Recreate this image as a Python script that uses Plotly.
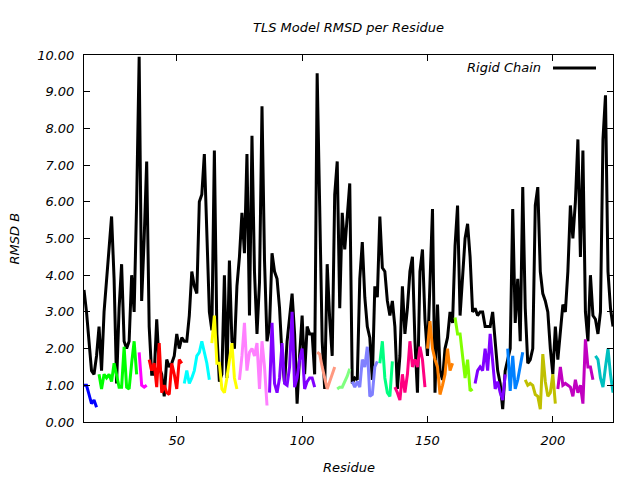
import plotly.graph_objects as go

# ---------------- data ----------------
residues = list(range(13, 225))

rigid_chain_rmsd = [
    3.6, 3.0, 2.2, 1.4, 1.3, 1.8, 2.6, 1.4, 3.0, 3.9,      # 13-22
    4.8, 5.6, 3.9, 1.05, 3.1, 4.3, 2.2, 2.0, 2.2, 4.0,     # 23-32
    3.0, 6.0, 9.95, 3.3, 5.0, 7.1, 2.6, 1.3, 1.3, 2.8,     # 33-42
    1.5, 1.3, 0.7, 1.7, 1.5, 1.6, 1.8, 2.4, 2.0, 2.3,      # 43-52
    2.2, 2.2, 2.9, 4.1, 3.7, 3.5, 6.0, 6.2, 7.3, 5.4,      # 53-62
    3.0, 2.5, 7.4, 2.4, 1.1, 1.3, 4.0, 1.2, 4.4, 2.2,      # 63-72
    2.0, 3.7, 4.5, 5.7, 4.6, 7.3, 2.9, 7.8, 4.1, 2.4,      # 73-82
    3.8, 8.6, 4.4, 2.2, 2.6, 4.6, 4.1, 3.9, 3.1, 1.8,      # 83-92
    1.05, 2.2, 2.8, 3.5, 2.4, 0.5, 1.8, 2.9, 1.3, 2.6,     # 93-102
    2.4, 2.4, 1.3, 9.5, 5.9, 2.2, 0.9, 4.3, 2.8, 1.8,      # 103-112
    6.2, 7.1, 3.1, 5.7, 4.7, 5.6, 6.5, 1.05, 1.2, 1.15,    # 113-122
    3.9, 4.9, 3.4, 2.6, 2.3, 1.15, 3.7, 3.4, 5.6, 4.2,     # 123-132
    4.1, 3.3, 2.9, 3.3, 2.6, 0.9, 1.8, 3.7, 2.4, 3.1,      # 133-142
    4.1, 4.5, 2.2, 0.8, 4.1, 4.7, 2.8, 1.8, 4.1, 5.8,      # 143-152
    0.8, 3.2, 1.4, 1.15, 2.0, 2.3, 3.0, 2.7, 4.8, 5.9,     # 153-162
    2.9, 4.1, 5.0, 5.4, 4.5, 3.0, 3.1, 2.9, 3.0, 3.0,      # 163-172
    2.6, 2.6, 2.6, 3.0, 2.1, 1.4, 1.05, 0.35, 1.4, 1.7,    # 173-182
    2.0, 5.8, 2.7, 3.9, 2.2, 6.4, 3.1, 1.6, 1.7, 2.0,      # 183-192
    5.9, 6.4, 4.1, 3.5, 3.3, 3.0, 2.0, 1.3, 2.6, 1.7,      # 193-202
    2.4, 3.2, 3.0, 4.1, 5.9, 5.0, 6.0, 7.7, 4.5, 7.4,      # 203-212
    3.0, 2.2, 4.0, 2.9, 2.8, 2.4, 3.0, 7.7, 8.9, 4.1,      # 213-222
    3.1, 2.6,                                              # 223-224
]

# TLS groups: first residue of each group and its per-residue RMSD values
tls_group_starts = [13, 19, 35, 39, 53, 64, 75, 87, 106, 114,
                    120, 131, 137, 150, 161, 169, 182, 189, 202, 217]

tls_group_rmsd = [
    [1.0, 1.0, 0.75, 0.5, 0.6, 0.4],
    [1.3, 0.9, 1.3, 1.2, 1.3, 1.1, 1.6, 1.3, 0.95, 0.95, 2.05, 0.95, 0.9, 1.6, 2.2, 1.3],
    [1.9, 1.0, 0.95, 1.0],
    [1.7, 1.4, 1.6, 0.95, 2.15, 0.8, 1.0, 0.8, 0.75, 1.6, 1.3, 0.9, 1.7, 1.6],
    [1.05, 1.4, 1.05, 1.2, 1.4, 1.8, 1.9, 2.2, 1.9, 1.6, 1.15],
    [2.15, 2.9, 1.6, 1.6, 0.9, 0.8, 1.2, 1.7, 2.15, 1.2, 0.9],
    [1.15, 1.8, 2.7, 1.4, 1.9, 2.0, 1.8, 2.15, 0.9, 2.2, 1.5, 0.45],
    [0.8, 2.7, 1.05, 0.8, 1.2, 2.15, 1.05, 1.0, 1.5, 3.0, 0.95, 1.2, 1.7, 2.0, 0.9,
     1.1, 1.2, 1.2, 0.95],
    [1.9, 1.85, 1.5, 1.2, 0.9, 1.1, 1.3, 1.5],
    [0.9, 0.95, 0.95, 1.1, 1.25, 1.45],
    [1.1, 0.95, 1.1, 0.95, 1.7, 1.5, 2.05, 0.7, 0.75, 1.5, 1.65],
    [1.6, 2.2, 1.2, 0.8, 0.7, 1.65],
    [0.95, 0.8, 0.6, 1.3, 0.8, 1.3, 2.2, 1.5, 1.7, 1.5, 2.05, 1.7, 0.95],
    [2.0, 2.75, 2.0, 1.7, 1.5, 0.75, 1.0, 1.3, 2.0, 1.4, 1.6],
    [2.85, 2.4, 2.4, 1.8, 1.2, 1.7, 0.85, 0.9],
    [1.05, 1.4, 1.5, 1.4, 2.0, 1.4, 2.4, 1.7, 0.9, 1.1, 0.8, 0.6, 1.3],
    [2.0, 0.85, 1.8, 0.9, 1.15, 1.5, 1.9],
    [1.15, 1.0, 1.05, 1.0, 0.75, 0.7, 0.35, 1.85, 1.1, 0.7, 0.8, 1.3, 0.5],
    [0.9, 1.5, 1.0, 1.05, 1.0, 0.95, 0.7, 1.15, 0.8, 1.0, 0.5, 2.25, 1.5, 1.5, 1.15],
    [1.8, 1.7, 1.2, 0.95, 1.5, 2.0, 1.3, 0.8],
]

tls_group_colors = ["#0000ff", "#00ff00", "#ff00ff", "#ff0000", "#00ffff",
                    "#ffff00", "#ff80ff", "#8000ff", "#ff9980", "#80ff80",
                    "#8080ff", "#00ff80", "#ff0080", "#ff8000", "#80ff00",
                    "#8000ff", "#0080ff", "#c0c000", "#c000c0", "#00c0c0"]

x_ticks = [50, 100, 150, 200]

# ---------------- figure ----------------
# The page body has an 8px margin, so the figure is 8px smaller and the
# margins are shifted to land the plot frame where the reference has it.
FONT = "DejaVu Sans"
W, H = 632, 472
fig = go.Figure()

fig.add_trace(go.Scatter(
    x=residues, y=rigid_chain_rmsd, mode="lines", name="Rigid Chain",
    line=dict(color="black", width=3), showlegend=False))

for start, vals, col in zip(tls_group_starts, tls_group_rmsd, tls_group_colors):
    fig.add_trace(go.Scatter(
        x=list(range(start, start + len(vals))), y=vals, mode="lines",
        line=dict(color=col, width=3), showlegend=False, hoverinfo="skip"))

axis_common = dict(
    showline=True, linecolor="black", linewidth=1, mirror="ticks",
    ticks="inside", ticklen=6, tickcolor="black", tickwidth=1,
    showgrid=False, zeroline=False, automargin=False,
    tickfont=dict(family=FONT, size=13, color="black", style="italic"),
)

txt_font = dict(family=FONT, size=13, color="black", style="italic")

fig.update_layout(
    width=W, height=H,
    margin=dict(l=76, r=27, t=47, b=58),
    paper_bgcolor="white", plot_bgcolor="white",
    font=txt_font,
    title=dict(text="TLS Model RMSD per Residue", x=0.5, xref="paper",
               y=1 - 19 / H, yref="container", yanchor="middle",
               font=txt_font),
    xaxis=dict(range=[13, 224], tickvals=x_ticks, ticklabelstandoff=6,
               **axis_common),
    yaxis=dict(range=[0, 10], dtick=1, tickformat=".2f", ticklabelstandoff=6,
               **axis_common),
    showlegend=False,
)

# axis titles
fig.add_annotation(text="Residue", xref="paper", yref="paper", x=0.5,
                   y=(422 - 467) / 367, xanchor="center", yanchor="middle",
                   showarrow=False, font=txt_font)
fig.add_annotation(text="RMSD B", xref="paper", yref="paper",
                   x=(14 - 84) / 529, y=0.5, xanchor="center", yanchor="middle",
                   textangle=-90, showarrow=False, font=txt_font)

# key (gnuplot style: text then sample line)
fig.add_annotation(text="Rigid Chain", xref="paper", yref="paper",
                   x=(543 - 84) / 529, y=(422 - 68) / 367,
                   xanchor="right", yanchor="middle", showarrow=False,
                   font=txt_font)
fig.add_shape(type="line", xref="paper", yref="paper",
              x0=(553 - 84) / 529, x1=(596 - 84) / 529,
              y0=(422 - 68) / 367, y1=(422 - 68) / 367,
              line=dict(color="black", width=3))

fig.write_html("out.html")
